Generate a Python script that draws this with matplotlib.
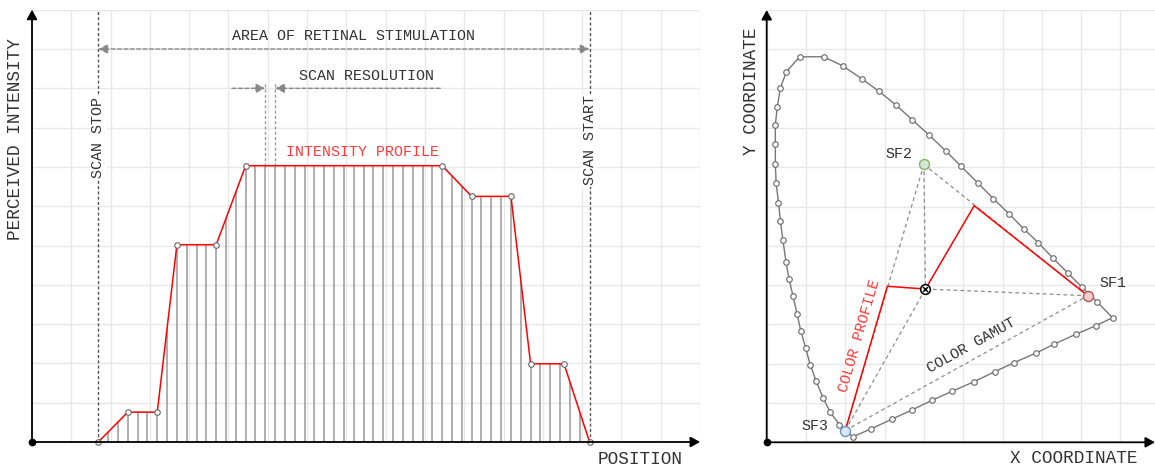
import numpy as np
import matplotlib
matplotlib.use("Agg")
import matplotlib.pyplot as plt
from matplotlib.patches import Polygon

W, H = 1155, 468
U = 39.3  # pixels per grid cell

FONT = "Liberation Mono"
TXT = "#333333"
RED = "#ff0000"
RED_TXT = "#ff3b3b"
GRID = "#e8e8e8"

# left panel: intensity profile sampled between scan stop (0) and scan start (50)
scan_samples = 50
profile_pos = [0, 3, 6, 8, 12, 15, 35, 38, 42, 44, 47.4, 50]
profile_level = [0, 0.76, 0.76, 5.02, 5.02, 7.03, 7.03, 6.25, 6.25, 1.99, 1.99, 0]
resolution_pair = [17, 18]

# right panel: spectral locus, stimulus primaries and white point
locus_x = [2.19, 1.85, 1.62, 1.44, 1.26, 1.11, 0.99, 0.87, 0.77, 0.67, 0.57, 0.49,
           0.41, 0.35, 0.30, 0.24, 0.22, 0.22, 0.22, 0.27, 0.35, 0.50, 0.84, 1.45,
           1.93, 2.42, 2.86, 3.28, 3.70, 4.14, 4.56, 4.95, 5.38, 5.77, 6.17, 6.55,
           6.91, 7.29, 7.67, 8.03, 8.40, 8.80, 8.38, 7.87, 7.32, 6.85, 6.30, 5.81,
           5.27, 4.72, 4.21, 3.69, 3.19, 2.65]
locus_y = [0.14, 0.45, 0.76, 1.12, 1.55, 1.97, 2.40, 2.83, 3.27, 3.72, 4.15, 4.60,
           5.16, 5.63, 6.10, 6.60, 7.07, 7.58, 8.08, 8.54, 9.02, 9.43, 9.81, 9.81,
           9.58, 9.25, 8.93, 8.59, 8.21, 7.81, 7.41, 7.02, 6.59, 6.20, 5.81, 5.42,
           5.08, 4.68, 4.30, 3.94, 3.58, 3.17, 2.97, 2.75, 2.50, 2.27, 2.03, 1.80,
           1.54, 1.30, 1.07, 0.82, 0.59, 0.34]
sf_names = ["SF1", "SF2", "SF3"]
sf_x = [8.17, 4.00, 2.00]
sf_y = [3.73, 7.07, 0.30]
sf_fill = ["#f8cecc", "#d5e8d4", "#dae8fc"]
sf_edge = ["#b85450", "#82b366", "#6c8ebf"]
white_x, white_y = 4.04, 3.90
path_x = [2.00, 3.07, 4.04, 5.28, 8.17]
path_y = [0.30, 3.97, 3.90, 6.02, 3.73]

plt.rcParams["font.family"] = [FONT, "DejaVu Sans Mono"]
plt.rcParams["font.size"] = 10.8

fig = plt.figure(figsize=(W / 100, H / 100), dpi=100)


def rect(x0, ybot, w, h):
    return [x0 / W, 1 - ybot / H, w / W, h / H]


def ftext(x, y, s, **kw):
    fig.text(x / W, 1 - y / H, s, color=TXT, **kw)


def setup(ax):
    ax.grid(True, color=GRID, lw=1)
    ax.set_axisbelow(True)
    ax.tick_params(length=0, labelbottom=False, labelleft=False)
    for sp in ax.spines.values():
        sp.set_visible(False)
    head = dict(arrowstyle="-|>,head_length=0.4,head_width=0.22", color="black",
                lw=1.3, shrinkA=0, shrinkB=0, mutation_scale=14)
    ax.annotate("", xy=(0, 1), xytext=(0, 0), xycoords="axes fraction",
                arrowprops=head, annotation_clip=False, zorder=8)
    ax.annotate("", xy=(1, 0), xytext=(0, 0), xycoords="axes fraction",
                arrowprops=head, annotation_clip=False, zorder=8)
    ax.plot([0], [0], "o", color="black", ms=4.5, transform=ax.transAxes,
            clip_on=False, zorder=9)


# ---------------- left panel ----------------
axL = fig.add_axes(rect(32, 442, 17 * U, 11 * U))
step = U / 4
x0 = -(98.3 - 32) / step
axL.set_xlim(x0, x0 + 68)
axL.set_ylim(0, 11)
axL.set_xticks(x0 + 4 * np.arange(18))
axL.set_yticks(np.arange(12))
setup(axL)

under = Polygon(np.column_stack([profile_pos, profile_level]), closed=True,
                transform=axL.transData)
sticks = axL.vlines(np.arange(scan_samples + 1), 0, 11, color="#999999", lw=1.1, zorder=2)
sticks.set_clip_path(under)

axL.plot(profile_pos, profile_level, color=RED, lw=1.1, zorder=4)
axL.plot(profile_pos, profile_level, "o", ms=4, mfc="white", mec="#666666",
         mew=0.8, zorder=5, clip_on=False)

for xpos, label, ylab in [(0, "SCAN STOP", 7.75), (scan_samples, "SCAN START", 7.68)]:
    axL.plot([xpos, xpos], [0, 11], color="#555555", lw=1, ls=(0, (2.2, 1.6)), zorder=3)
    axL.text(xpos, ylab, label, rotation=90, ha="center", va="center", color=TXT,
             bbox=dict(fc="white", ec="none", pad=1.2), zorder=6)

dash_head = dict(color="#888888", lw=1, ls=(0, (3, 1.6)), shrinkA=0, shrinkB=0,
                 mutation_scale=14)
axL.annotate("", xy=(0, 10), xytext=(scan_samples, 10),
             arrowprops=dict(arrowstyle="<|-|>,head_length=0.4,head_width=0.2", **dash_head))
axL.text(26.0, 10.33, "AREA OF RETINAL STIMULATION", ha="center", va="center", color=TXT)

top = max(profile_level)
for xpos in resolution_pair:
    axL.plot([xpos, xpos], [top, 9.13], color="#999999", lw=1, ls=(0, (2.2, 1.6)), zorder=3)
axL.annotate("", xy=(resolution_pair[0], 9.0), xytext=(13.6, 9.0),
             arrowprops=dict(arrowstyle="-|>,head_length=0.4,head_width=0.2", **dash_head))
axL.annotate("", xy=(resolution_pair[1], 9.0), xytext=(34.8, 9.0),
             arrowprops=dict(arrowstyle="-|>,head_length=0.4,head_width=0.2", **dash_head))
axL.text(27.33, 9.31, "SCAN RESOLUTION", ha="center", va="center", color=TXT)
axL.text(26.85, 7.38, "INTENSITY PROFILE", ha="center", va="center", color=RED_TXT)

ftext(15.5, 139, "PERCEIVED INTENSITY", rotation=90, ha="center", va="center", fontsize=12.8)
ftext(683, 459, "POSITION", ha="right", va="center", fontsize=12.8)

# ---------------- right panel ----------------
axR = fig.add_axes(rect(766.7, 442.3, W - 766.7, 11 * U))
axR.set_xlim(0, (W - 766.7) / U)
axR.set_ylim(0, 11)
axR.set_xticks(np.arange(10))
axR.set_yticks(np.arange(12))
setup(axR)

axR.plot(locus_x + locus_x[:1], locus_y + locus_y[:1], color="#777777", lw=1, zorder=3)
axR.plot(locus_x, locus_y, "o", ms=4, mfc="white", mec="#666666", mew=0.8, zorder=4)

gamut = dict(color="#8c8c8c", lw=0.9, ls=(0, (3, 2.5)), zorder=3)
for i in range(3):
    j = (i + 1) % 3
    axR.plot([sf_x[i], sf_x[j]], [sf_y[i], sf_y[j]], **gamut)
    axR.plot([sf_x[i], white_x], [sf_y[i], white_y], **gamut)

axR.plot(path_x, path_y, color=RED, lw=1.1, zorder=5)

for name, x, y, fc, ec in zip(sf_names, sf_x, sf_y, sf_fill, sf_edge):
    axR.plot(x, y, "o", ms=7.2, mfc=fc, mec=ec, mew=1, zorder=6)
axR.plot(white_x, white_y, "o", ms=7, mfc="white", mec="black", mew=1.1, zorder=6)
axR.plot(white_x, white_y, "x", ms=3.6, color="black", mew=1.1, zorder=7)

axR.text(8.474, 4.05, "SF1", ha="left", va="center", color=TXT)
axR.text(3.369, 7.33, "SF2", ha="center", va="center", color=TXT)
axR.text(1.228, 0.414, "SF3", ha="center", va="center", color=TXT)
axR.text(2.349, 2.705, "COLOR PROFILE", rotation=73.8, rotation_mode="anchor",
         ha="center", va="center", color=RED_TXT)
axR.text(5.198, 2.468, "COLOR GAMUT", rotation=29.1, rotation_mode="anchor",
         ha="center", va="center", color=TXT)

ftext(751.7, 91, "Y COORDINATE", rotation=90, ha="center", va="center", fontsize=12.8)
ftext(1137, 458.5, "X COORDINATE", ha="right", va="center", fontsize=12.8)

fig.savefig("out.png", dpi=100)
